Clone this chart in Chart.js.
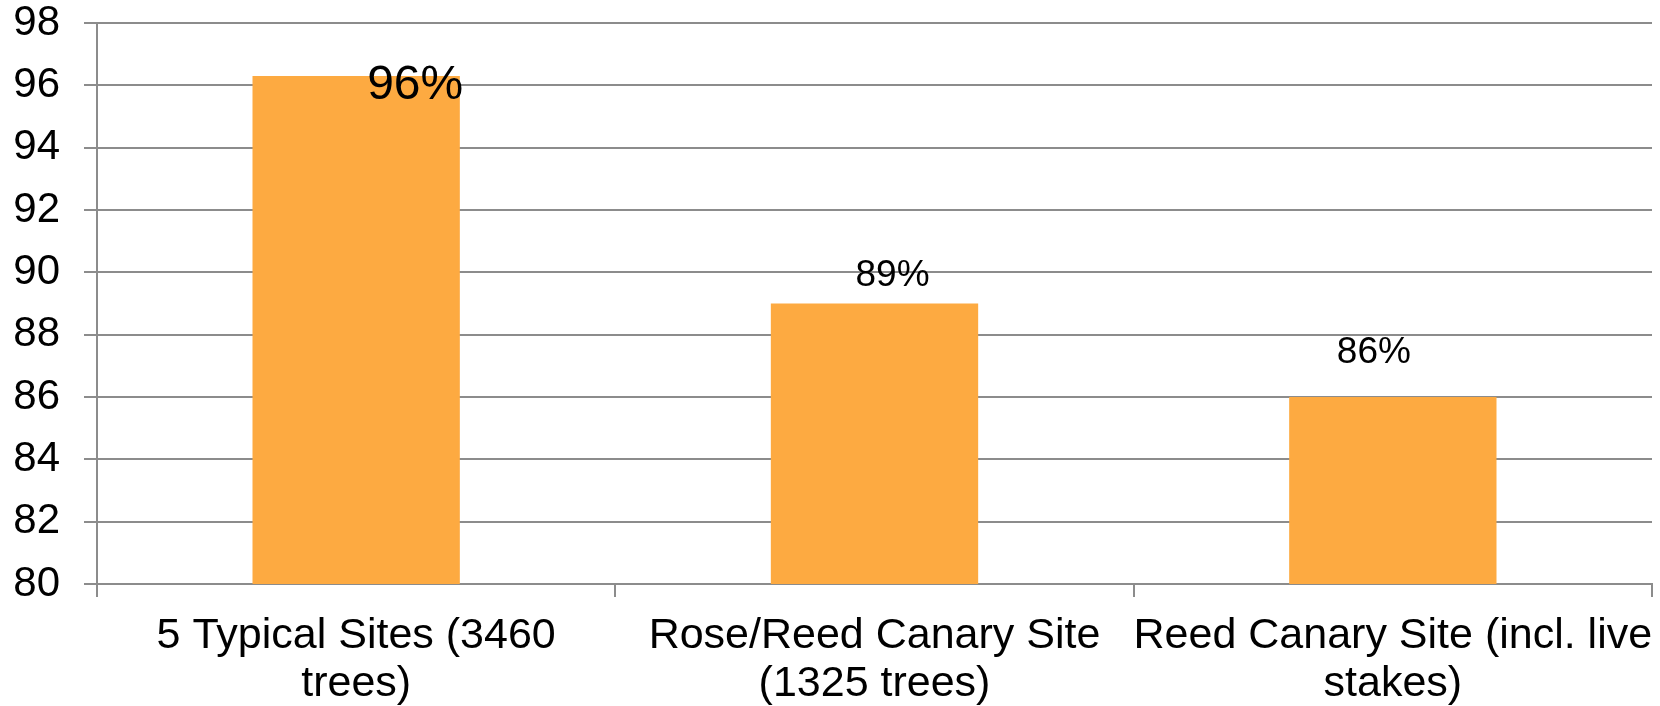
<!DOCTYPE html>
<html>
<head>
<meta charset="utf-8">
<script src="https://cdn.jsdelivr.net/npm/chart.js@4/dist/chart.umd.min.js"></script>
<style>
  html, body { margin: 0; padding: 0; background: #ffffff; }
  #wrap { width: 1660px; height: 706px; }
</style>
</head>
<body>
<div id="wrap"><canvas id="survival" width="1660" height="706"></canvas></div>
<script>
// Site categories (each label split over two lines)
const siteLabels = [
  ['5 Typical Sites (3460', 'trees)'],
  ['Rose/Reed Canary Site', '(1325 trees)'],
  ['Reed Canary Site (incl. live', 'stakes)']
];

// Survival rate per site, percent
const survivalRates = [96.3, 89, 86];

// Value axis range and spacing
const yMin = 80;
const yMax = 98;
const yStep = 2;

// Per-bar value label styling: font size and offset from the bar's top centre
const labelFontSizes = [48, 37, 37];
const labelOffsets = [
  { dx: 59, dy: 23 },
  { dx: 18, dy: -18 },
  { dx: -19, dy: -34 }
];

const FONT = '"Liberation Sans", Arial, Helvetica, sans-serif';
const GRID = '#8c8c8c';
const BAR = 'rgb(253,170,65)';

// Draws "NN%" labels next to each bar
const valueLabels = {
  id: 'valueLabels',
  afterDatasetsDraw(chart) {
    const ctx = chart.ctx;
    const meta = chart.getDatasetMeta(0);
    const values = chart.data.datasets[0].data;
    ctx.save();
    ctx.fillStyle = '#000000';
    ctx.textAlign = 'center';
    ctx.textBaseline = 'alphabetic';
    meta.data.forEach((bar, i) => {
      const off = labelOffsets[i];
      ctx.font = labelFontSizes[i] + 'px ' + FONT;
      ctx.fillText(Math.round(values[i]) + '%', bar.x + off.dx, bar.y + off.dy);
    });
    ctx.restore();
  }
};

new Chart(document.getElementById('survival'), {
  type: 'bar',
  data: {
    labels: siteLabels,
    datasets: [{
      data: survivalRates,
      backgroundColor: BAR,
      borderWidth: 0,
      barPercentage: 0.4,
      categoryPercentage: 1.0
    }]
  },
  options: {
    responsive: false,
    animation: false,
    layout: { padding: { left: 0, right: 8, top: 23, bottom: 0 } },
    plugins: {
      legend: { display: false },
      tooltip: { enabled: false }
    },
    scales: {
      x: {
        offset: true,
        grid: {
          offset: true,
          drawOnChartArea: false,
          drawTicks: true,
          tickLength: 13,
          color: GRID,
          lineWidth: 2
        },
        border: { display: true, color: GRID, width: 2 },
        ticks: {
          autoSkip: false,
          maxRotation: 0,
          minRotation: 0,
          padding: 15,
          color: '#000000',
          font: { family: FONT, size: 43, lineHeight: 48 / 43 }
        },
        afterFit(scale) {
          scale.height = 122;
          scale.paddingLeft = 0;
          scale.paddingRight = 0;
        }
      },
      y: {
        min: yMin,
        max: yMax,
        grid: {
          color: GRID,
          lineWidth: 2,
          drawTicks: true,
          tickLength: 13
        },
        border: { display: true, color: GRID, width: 2 },
        ticks: {
          stepSize: yStep,
          padding: 24,
          color: '#000000',
          font: { family: FONT, size: 42, lineHeight: 1.0 }
        },
        afterFit(scale) {
          scale.width = 97;
          scale.paddingTop = 0;
          scale.paddingBottom = 0;
        }
      }
    }
  },
  plugins: [valueLabels]
});
</script>
</body>
</html>
